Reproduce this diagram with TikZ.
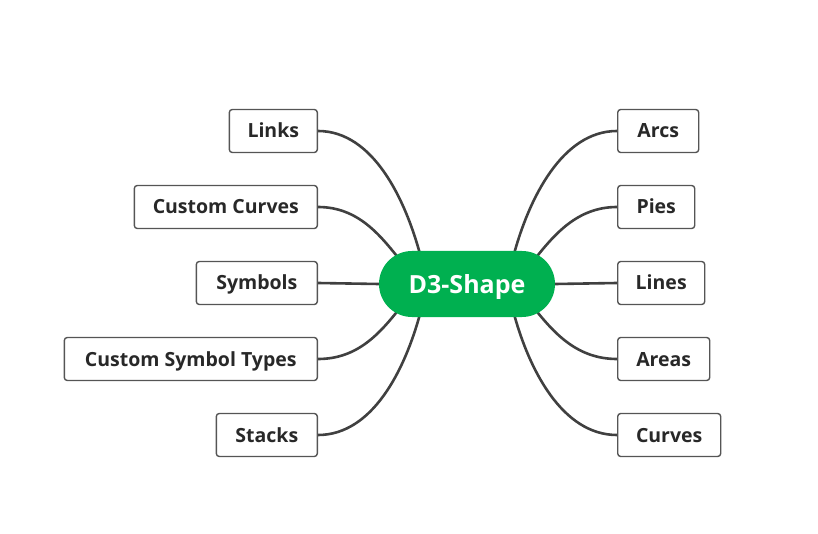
\documentclass[tikz,border=0pt]{standalone}
\usepackage{fontspec}
\setmainfont{Open Sans}
\usetikzlibrary{backgrounds,calc}
\definecolor{cgreen}{RGB}{0,176,80}
\definecolor{cline}{RGB}{64,64,64}
\definecolor{cbox}{RGB}{85,85,85}
\definecolor{ctext}{RGB}{40,40,40}
\begin{document}
\begin{tikzpicture}[x=1pt,y=-1pt,
  box/.style={draw=cbox, line width=1.4pt, rounded corners=3pt, fill=white,
    minimum height=43pt, inner xsep=4pt, text height=14pt, text depth=0pt,
    text=ctext, font=\bfseries\fontsize{19.5}{22}\selectfont},
  conn/.style={draw=cline, line width=2.6pt}]
\useasboundingbox (0,0) rectangle (818,534);
\node[fill=cgreen, text=white, rounded corners=33pt, minimum width=176pt, minimum height=66pt,
  text height=18pt, text depth=0pt,
  font=\bfseries\fontsize{25}{28}\selectfont] (c) at (467,284) {D3-Shape};
% left
\node[box, anchor=east, minimum width=88pt] (links) at (318,131) {Links};
\node[box, anchor=east, minimum width=183pt] (ccurves) at (318,207) {Custom Curves};
\node[box, anchor=east, minimum width=121pt] (symbols) at (318,283) {Symbols};
\node[box, anchor=east, minimum width=253pt] (cst) at (318,359) {Custom Symbol Types};
\node[box, anchor=east, minimum width=101pt] (stacks) at (318,435) {Stacks};
% right
\node[box, anchor=west, minimum width=81pt] (arcs) at (617,131) {Arcs};
\node[box, anchor=west, minimum width=77pt] (pies) at (617,207) {Pies};
\node[box, anchor=west, minimum width=87pt] (lines) at (617,283) {Lines};
\node[box, anchor=west, minimum width=92pt] (areas) at (617,359) {Areas};
\node[box, anchor=west, minimum width=103pt] (curves) at (617,435) {Curves};
% endpoints
\coordinate (e1) at ($(c.center)+(-47,-30)$);
\coordinate (e2) at ($(c.center)+(-67,-24)$);
\coordinate (e4) at ($(c.center)+(-67,24)$);
\coordinate (e5) at ($(c.center)+(-47,30)$);
\coordinate (f1) at ($(c.center)+(47,-30)$);
\coordinate (f2) at ($(c.center)+(67,-24)$);
\coordinate (f4) at ($(c.center)+(67,24)$);
\coordinate (f5) at ($(c.center)+(47,30)$);
\begin{scope}[on background layer]
\draw[conn] (links.east) .. controls +(55,0) and +(-15,-55) .. (e1);
\draw[conn] (ccurves.east) .. controls +(40,0) and +(-20,-25) .. (e2);
\draw[conn] (symbols.east) -- (c.west);
\draw[conn] (cst.east) .. controls +(40,0) and +(-20,25) .. (e4);
\draw[conn] (stacks.east) .. controls +(55,0) and +(-15,55) .. (e5);
\draw[conn] (arcs.west) .. controls +(-55,0) and +(15,-55) .. (f1);
\draw[conn] (pies.west) .. controls +(-40,0) and +(20,-25) .. (f2);
\draw[conn] (lines.west) -- (c.east);
\draw[conn] (areas.west) .. controls +(-40,0) and +(20,25) .. (f4);
\draw[conn] (curves.west) .. controls +(-55,0) and +(15,55) .. (f5);
\end{scope}
\end{tikzpicture}
\end{document}
